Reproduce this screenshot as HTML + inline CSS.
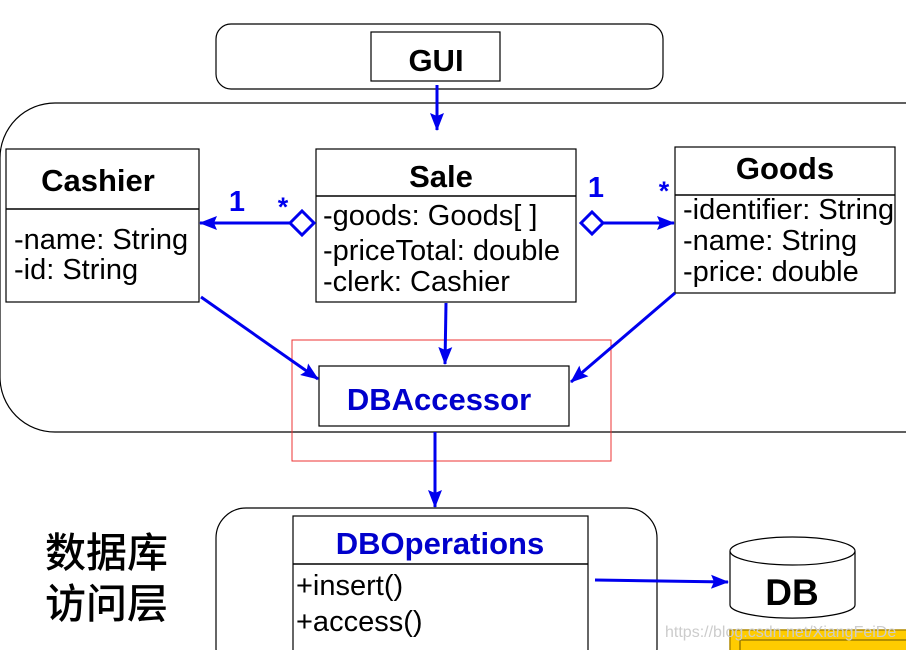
<!DOCTYPE html>
<html><head><meta charset="utf-8"><style>
body{margin:0;background:#fff;}
svg{display:block;font-family:"Liberation Sans",Arial,sans-serif;}
</style></head><body>
<svg width="906" height="650" viewBox="0 0 906 650" xmlns="http://www.w3.org/2000/svg">
<defs>
<marker id="ah2" markerWidth="18" markerHeight="14" refX="17" refY="7" orient="auto" markerUnits="userSpaceOnUse"><path d="M0,0 L18,7 L0,14 L3,7 z" fill="#0000ee"/></marker>
</defs>
<rect x="216" y="24" width="447" height="65" rx="15" fill="#fff" stroke="#000" stroke-width="1.2"/>
<rect x="371" y="32" width="129" height="49" fill="#fff" stroke="#000" stroke-width="1.2"/>
<text x="436" y="71" font-size="31" font-weight="bold" text-anchor="middle">GUI</text>
<rect x="0" y="103" width="960" height="329" rx="55" fill="none" stroke="#000" stroke-width="1.2"/>
<line x1="437" y1="85" x2="437" y2="130" stroke="#0000ee" stroke-width="3" marker-end="url(#ah2)"/>
<!-- Cashier -->
<rect x="6" y="149" width="193" height="153" fill="#fff" stroke="#000" stroke-width="1.2"/>
<line x1="6" y1="209" x2="199" y2="209" stroke="#000" stroke-width="1.5"/>
<text x="98" y="191" font-size="31" font-weight="bold" text-anchor="middle">Cashier</text>
<text x="14" y="249" font-size="29">-name: String</text>
<text x="14" y="279" font-size="29">-id: String</text>
<!-- Sale -->
<rect x="316" y="149" width="260" height="153" fill="#fff" stroke="#000" stroke-width="1.2"/>
<line x1="316" y1="196" x2="576" y2="196" stroke="#000" stroke-width="1.5"/>
<text x="441" y="187" font-size="31" font-weight="bold" text-anchor="middle">Sale</text>
<text x="323" y="225" font-size="29">-goods: Goods[ ]</text>
<text x="323" y="260" font-size="29">-priceTotal: double</text>
<text x="323" y="291" font-size="29">-clerk: Cashier</text>
<!-- Goods -->
<rect x="675" y="147" width="220" height="146" fill="#fff" stroke="#000" stroke-width="1.2"/>
<line x1="675" y1="195" x2="895" y2="195" stroke="#000" stroke-width="1.5"/>
<text x="785" y="179" font-size="31" font-weight="bold" text-anchor="middle">Goods</text>
<text x="683" y="219" font-size="29">-identifier: String</text>
<text x="683" y="250" font-size="29">-name: String</text>
<text x="683" y="281" font-size="29">-price: double</text>
<!-- associations -->
<line x1="290" y1="223" x2="200" y2="223" stroke="#0000ee" stroke-width="3" marker-end="url(#ah2)"/>
<path d="M290,223 L302,211 L314,223 L302,235 z" fill="#fff" stroke="#0000ee" stroke-width="3"/>
<text x="237" y="211" font-size="29" font-weight="bold" fill="#0000ee" text-anchor="middle">1</text>
<text x="283" y="216" font-size="27" font-weight="bold" fill="#0000ee" text-anchor="middle">*</text>
<path d="M581,223 L592,212 L603,223 L592,234 z" fill="#fff" stroke="#0000ee" stroke-width="3"/>
<line x1="603" y1="223" x2="674" y2="223" stroke="#0000ee" stroke-width="3" marker-end="url(#ah2)"/>
<text x="596" y="197" font-size="29" font-weight="bold" fill="#0000ee" text-anchor="middle">1</text>
<text x="664" y="200" font-size="27" font-weight="bold" fill="#0000ee" text-anchor="middle">*</text>
<!-- DBAccessor -->
<rect x="292" y="340" width="319" height="121" fill="none" stroke="#e33" stroke-width="1"/>
<rect x="319" y="366" width="250" height="60" fill="#fff" stroke="#000" stroke-width="1.2"/>
<text x="439" y="410" font-size="31" font-weight="bold" fill="#0000cc" text-anchor="middle">DBAccessor</text>
<line x1="201" y1="297" x2="318" y2="379" stroke="#0000ee" stroke-width="3" marker-end="url(#ah2)"/>
<line x1="446" y1="303" x2="445" y2="364" stroke="#0000ee" stroke-width="3" marker-end="url(#ah2)"/>
<line x1="675" y1="293" x2="571" y2="382" stroke="#0000ee" stroke-width="3" marker-end="url(#ah2)"/>
<line x1="435" y1="432" x2="435" y2="507" stroke="#0000ee" stroke-width="3" marker-end="url(#ah2)"/>
<!-- bottom -->
<rect x="216" y="508" width="441" height="170" rx="30" fill="none" stroke="#000" stroke-width="1.2"/>
<rect x="293" y="516" width="295" height="150" fill="#fff" stroke="#000" stroke-width="1.2"/>
<line x1="293" y1="564" x2="588" y2="564" stroke="#000" stroke-width="1.5"/>
<text x="440" y="554" font-size="31" font-weight="bold" fill="#0000cc" text-anchor="middle">DBOperations</text>
<text x="296" y="595" font-size="29">+insert()</text>
<text x="296" y="631" font-size="29">+access()</text>
<line x1="595" y1="580" x2="728" y2="582" stroke="#0000ee" stroke-width="3" marker-end="url(#ah2)"/>
<text x="45" y="567" font-size="41" font-family="'Noto Sans CJK SC',sans-serif" font-weight="500">数据库</text>
<text x="45" y="618" font-size="41" font-family="'Noto Sans CJK SC',sans-serif" font-weight="500">访问层</text>
<!-- DB -->
<path d="M730,551 L730,605 A62,13 0 0 0 855,605 L855,551" fill="#fff" stroke="#000" stroke-width="1.2"/>
<ellipse cx="792.5" cy="551" rx="62.5" ry="14" fill="#fff" stroke="#000" stroke-width="1.2"/>
<text x="792" y="605" font-size="37" font-weight="bold" text-anchor="middle">DB</text>
<rect x="730" y="630" width="180" height="30" fill="#ffcc00" stroke="#b08a00" stroke-width="1.5"/>
<rect x="740" y="640" width="170" height="20" fill="#ffcc00" stroke="#6b5500" stroke-width="1"/>
<text x="665" y="637" font-size="16" fill="#ccc">https://blog.csdn.net/XiangFeiDe</text>
</svg>
</body></html>
